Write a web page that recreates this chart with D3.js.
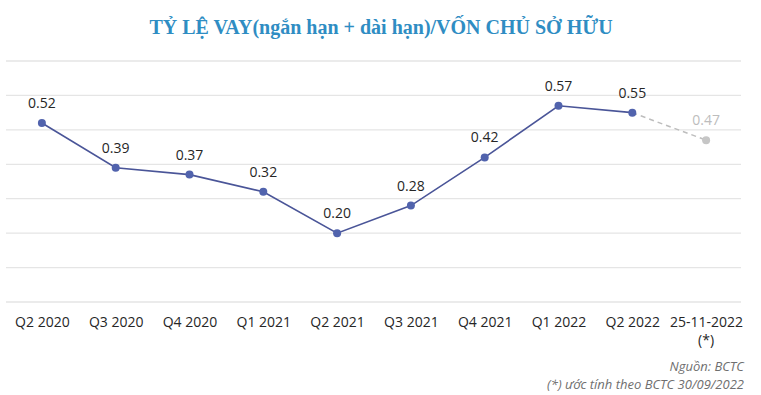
<!DOCTYPE html>
<html>
<head>
<meta charset="utf-8">
<script src="https://cdn.jsdelivr.net/npm/d3@7"></script>
<style>
body { margin: 0; background: #fff; }
</style>
</head>
<body>
<script>
// data
var categories = ["Q2 2020", "Q3 2020", "Q4 2020", "Q1 2021", "Q2 2021", "Q3 2021", "Q4 2021", "Q1 2022", "Q2 2022", "25-11-2022"];
var values = [0.52, 0.39, 0.37, 0.32, 0.20, 0.28, 0.42, 0.57, 0.55, 0.47];
var valueLabels = ["0.52", "0.39", "0.37", "0.32", "0.20", "0.28", "0.42", "0.57", "0.55", "0.47"];
var gridTicks = [0, 0.1, 0.2, 0.3, 0.4, 0.5, 0.6, 0.7];
var estimateIndex = 9; // last point is an estimate

var width = 761, height = 395;

var svg = d3.select("body")
        .append("svg")
        .attr("width", width)
        .attr("height", height)
        .style("font-family", "'Open Sans', sans-serif");

var x = d3.scalePoint()
        .domain(categories)
        .range([5, 743])
        .padding(0.5);

var y = d3.scaleLinear()
        .domain([0, 0.7])
        .range([302, 61]);

// title
svg.append("text")
        .attr("x", 381)
        .attr("y", 34)
        .attr("text-anchor", "middle")
        .attr("fill", "#2f8dc3")
        .style("font-family", "'Liberation Serif', 'DejaVu Serif', serif")
        .style("font-weight", "bold")
        .style("font-size", "20px")
        .text("TỶ LỆ VAY(ngắn hạn + dài hạn)/VỐN CHỦ SỞ HỮU");

// gridlines
svg.selectAll("line.grid")
        .data(gridTicks)
        .enter()
        .append("line")
        .attr("class", "grid")
        .attr("x1", 6)
        .attr("x2", 741)
        .attr("y1", function(d) { return y(d); })
        .attr("y2", function(d) { return y(d); })
        .attr("stroke", "#e5e5e5")
        .attr("stroke-width", 1.3);

// x axis labels
var xAxis = svg.append("g")
        .attr("transform", "translate(0,302)")
        .call(d3.axisBottom(x).tickSize(0).tickPadding(15));
xAxis.select(".domain").remove();
xAxis.selectAll("text")
        .style("font-family", "'Open Sans', sans-serif")
        .style("font-size", "14px")
        .attr("fill", "#262626");

svg.append("text")
        .attr("x", x(categories[estimateIndex]))
        .attr("y", 345)
        .attr("text-anchor", "middle")
        .attr("fill", "#262626")
        .style("font-size", "14px")
        .text("(*)");

var actual = values.slice(0, estimateIndex).map(function(d, i) { return [categories[i], d]; });
var estimate = [[categories[estimateIndex - 1], values[estimateIndex - 1]], [categories[estimateIndex], values[estimateIndex]]];

var line = d3.line()
        .x(function(d) { return x(d[0]); })
        .y(function(d) { return y(d[1]); });

svg.append("path")
        .datum(estimate)
        .attr("d", line)
        .attr("fill", "none")
        .attr("stroke", "#bdbdbd")
        .attr("stroke-width", 1.5)
        .attr("stroke-dasharray", "5,4");

svg.append("path")
        .datum(actual)
        .attr("d", line)
        .attr("fill", "none")
        .attr("stroke", "#4a5598")
        .attr("stroke-width", 1.6);

svg.selectAll("circle")
        .data(values)
        .enter()
        .append("circle")
        .attr("cx", function(d, i) { return x(categories[i]); })
        .attr("cy", function(d) { return y(d); })
        .attr("r", 4)
        .attr("fill", function(d, i) { return i == estimateIndex ? "#c6c6c6" : "#5163ad"; });

svg.selectAll("text.val")
        .data(values)
        .enter()
        .append("text")
        .attr("class", "val")
        .attr("x", function(d, i) { return x(categories[i]); })
        .attr("y", function(d) { return y(d) - 15; })
        .attr("text-anchor", "middle")
        .attr("fill", function(d, i) { return i == estimateIndex ? "#bdbdbd" : "#262626"; })
        .style("font-size", "14px")
        .text(function(d, i) { return valueLabels[i]; });

// footnotes
svg.append("text")
        .attr("x", 744)
        .attr("y", 371)
        .attr("text-anchor", "end")
        .attr("fill", "#6f6f6f")
        .style("font-style", "italic")
        .style("font-size", "13px")
        .text("Nguồn: BCTC");

svg.append("text")
        .attr("x", 744)
        .attr("y", 389)
        .attr("text-anchor", "end")
        .attr("fill", "#6f6f6f")
        .style("font-style", "italic")
        .style("font-size", "13px")
        .text("(*) ước tính theo BCTC 30/09/2022");
</script>
</body>
</html>
